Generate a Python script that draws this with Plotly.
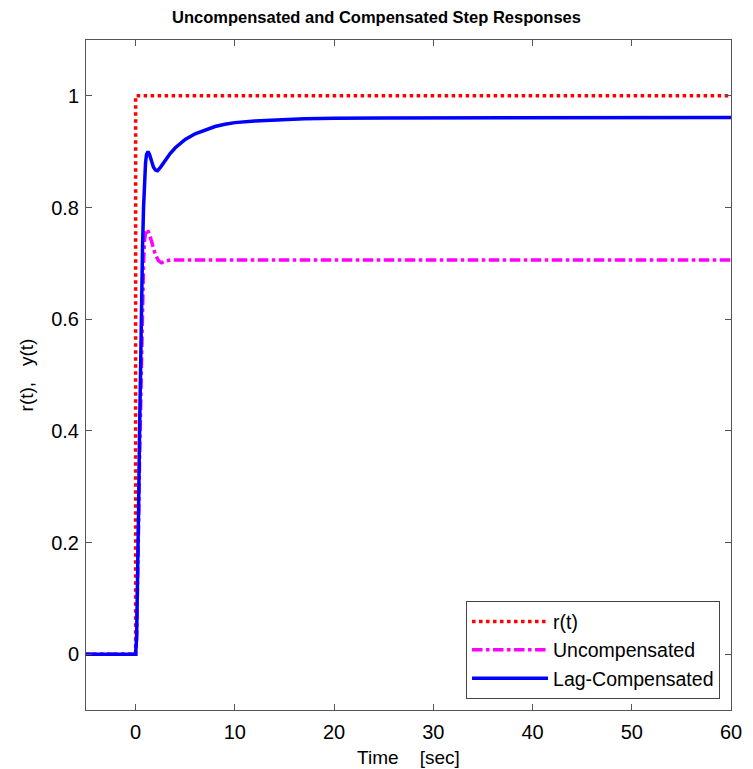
import plotly.graph_objects as go

# Reference step input r(t)
t_ref = [-5, 0, 0, 60]
y_ref = [0, 0, 1, 1]

# Uncompensated response
t_unc = [-5, 0, 0.1, 0.2, 0.3, 0.4, 0.5, 0.6, 0.7, 0.8, 0.9, 1.0, 1.2, 1.4, 1.6, 1.8, 2.0, 2.3, 2.6, 3.0, 3.5, 60]
y_unc = [0, 0, 0.03, 0.11, 0.23, 0.35, 0.46, 0.56, 0.64, 0.70, 0.74, 0.755, 0.761, 0.752, 0.740, 0.727, 0.715, 0.705, 0.701, 0.704, 0.706, 0.706]

# Lag-compensated response
t_lag = [-5, 0, 0.1, 0.2, 0.3, 0.4, 0.5, 0.6, 0.7, 0.8, 0.9, 1.0, 1.1, 1.25, 1.4, 1.6, 1.8, 2.0, 2.2, 2.5, 3, 3.5, 4, 5, 6, 7, 8, 9, 10, 12, 14, 17, 20, 25, 60]
y_lag = [0, 0, 0.03, 0.12, 0.26, 0.40, 0.53, 0.64, 0.73, 0.80, 0.85, 0.88, 0.895, 0.900, 0.895, 0.882, 0.872, 0.867, 0.866, 0.872, 0.885, 0.897, 0.907, 0.922, 0.932, 0.939, 0.945, 0.949, 0.952, 0.955, 0.957, 0.959, 0.960, 0.9605, 0.961]

x_ticks = [0, 10, 20, 30, 40, 50, 60]
y_ticks = [0, 0.2, 0.4, 0.6, 0.8, 1]
y_tick_text = ["0", "0.2", "0.4", "0.6", "0.8", "1"]

FONT = "Liberation Sans, Arial, sans-serif"

fig = go.Figure()
fig.add_trace(go.Scatter(x=t_ref, y=y_ref, mode="lines", name="r(t)",
                         line=dict(color="#ff0000", width=3.5, dash="dot")))
fig.add_trace(go.Scatter(x=t_unc, y=y_unc, mode="lines", name="Uncompensated",
                         line=dict(color="#ff00ff", width=3.5, dash="dashdot")))
fig.add_trace(go.Scatter(x=t_lag, y=y_lag, mode="lines", name="Lag-Compensated",
                         line=dict(color="#0000ff", width=3.5)))

axis_common = dict(
    showgrid=False, zeroline=False, showline=True, mirror="ticks",
    linecolor="#555", linewidth=1, ticks="inside", ticklen=6, tickcolor="#555",
    tickfont=dict(family=FONT, size=20, color="#000"),
    automargin=False,
)

fig.update_layout(
    width=753, height=769,
    margin=dict(l=86, r=22, t=40, b=59),
    paper_bgcolor="white", plot_bgcolor="white",
    title=dict(text="<b>Uncompensated and Compensated Step Responses</b>",
               font=dict(family=FONT, size=16.5, color="#000"),
               x=0.5, xanchor="center", y=0.978, yanchor="middle"),
    xaxis=dict(range=[-5, 60], tickvals=x_ticks, ticklabelstandoff=4,
               title=dict(text="Time&nbsp;&nbsp;&nbsp;&nbsp;[sec]", font=dict(family=FONT, size=19, color="#000"), standoff=8),
               **axis_common),
    yaxis=dict(range=[-0.1, 1.1], tickvals=y_ticks, ticktext=y_tick_text, ticklabelstandoff=2,
               title=dict(text="r(t),&nbsp;&nbsp;&nbsp;y(t)", font=dict(family=FONT, size=19, color="#000"), standoff=12),
               **axis_common),
    legend=dict(x=0.983, y=0.016, xanchor="right", yanchor="bottom",
                bgcolor="white", bordercolor="#444", borderwidth=1,
                font=dict(family=FONT, size=19.5, color="#000"),
                itemwidth=76, tracegroupgap=0),
    showlegend=True,
)

fig.write_html("out.html")
